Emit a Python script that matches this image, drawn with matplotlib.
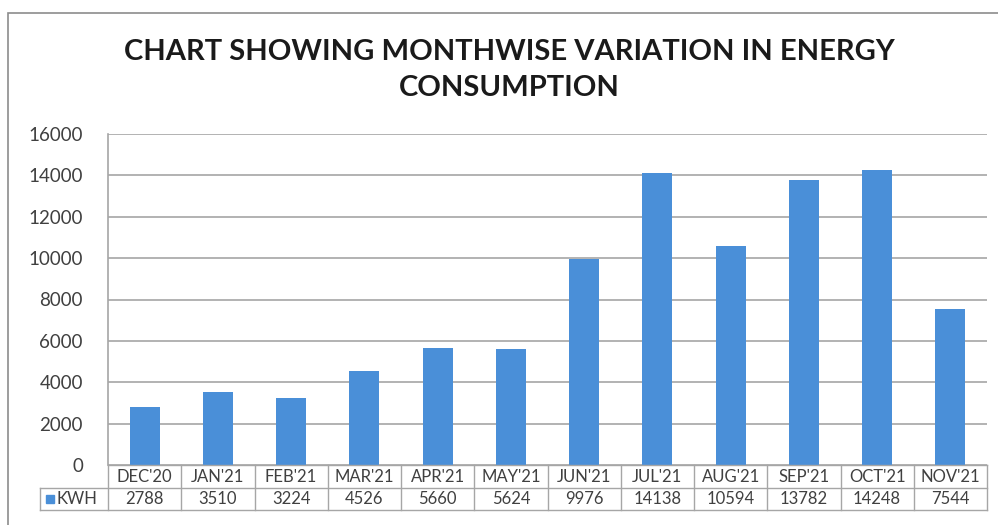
import matplotlib
matplotlib.use("Agg")
from matplotlib import pyplot as plt
from matplotlib.patches import Rectangle
from matplotlib.lines import Line2D
import numpy as np

months = ["DEC'20", "JAN'21", "FEB'21", "MAR'21", "APR'21", "MAY'21",
          "JUN'21", "JUL'21", "AUG'21", "SEP'21", "OCT'21", "NOV'21"]
kwh = [2788, 3510, 3224, 4526, 5660, 5624, 9976, 14138, 10594, 13782, 14248, 7544]
yticks = [0, 2000, 4000, 6000, 8000, 10000, 12000, 14000, 16000]
series_name = "KWH"
title = "CHART SHOWING MONTHWISE VARIATION IN ENERGY\nCONSUMPTION"

plt.rcParams['font.family'] = ['Lato', 'DejaVu Sans']
W, H = 998, 525
fig = plt.figure(figsize=(W / 100, H / 100), dpi=100)

bar_color = '#4a8fd8'
grid_color = '#a6a6a6'
text_color = '#404040'

# outer chart frame
fig.patches.append(Rectangle((8 / W, -0.1), 1.2, 1 - 13 / H + 0.1, transform=fig.transFigure,
                             fill=False, edgecolor='#8c8c8c', linewidth=1.2))

left, right, top, bottom = 108, 987, 134, 465
ax = fig.add_axes([left / W, 1 - bottom / H, (right - left) / W, (bottom - top) / H])

x = np.arange(len(months))
ax.bar(x, kwh, width=0.41, color=bar_color, zorder=3)
ax.set_xlim(-0.5, len(months) - 0.5)
ax.set_ylim(0, 16000)
ax.set_yticks(yticks)
ax.set_yticklabels([str(v) for v in yticks], fontsize=13.5, color=text_color)
ax.tick_params(axis='y', length=0, pad=18)
ax.set_xticks([])
ax.grid(axis='y', color=grid_color, linewidth=1.2, zorder=0)
for s in ['top', 'right', 'bottom']:
    ax.spines[s].set_visible(False)
ax.spines['left'].set_color(grid_color)
ax.spines['left'].set_linewidth(1.2)

fig.text(509 / W, 1 - 70 / H, title, ha='center', va='center', fontsize=21,
         fontweight='bold', color='#1a1a1a', linespacing=1.5)

# data table below the axis
row1 = 488
row2 = 510
lab_left = 40
def fy(p):
    return 1 - p / H
def fx(p):
    return p / W
lc = '#a6a6a6'
lines = [
    ((left, right), (bottom, bottom)),
    ((lab_left, right), (row1, row1)),
    ((lab_left, right), (row2, row2)),
    ((lab_left, lab_left), (row1, row2)),
    ((right, right), (bottom, row2)),
    ((left, left), (bottom, row2)),
]
for xs, ys in lines:
    fig.add_artist(Line2D([fx(xs[0]), fx(xs[1])], [fy(ys[0]), fy(ys[1])],
                          transform=fig.transFigure, color=lc, linewidth=1.0))
cw = (right - left) / len(months)
for i, (m, v) in enumerate(zip(months, kwh)):
    if i > 0:
        xl = left + i * cw
        fig.add_artist(Line2D([fx(xl), fx(xl)], [fy(bottom), fy(row2)],
                              transform=fig.transFigure, color=lc, linewidth=1.0))
    xc = left + (i + 0.5) * cw
    fig.text(fx(xc), fy((bottom + row1) / 2 + 1), m, ha='center', va='center',
             fontsize=12, color=text_color)
    fig.text(fx(xc), fy((row1 + row2) / 2), str(v), ha='center', va='center',
             fontsize=12, color=text_color)

fig.patches.append(Rectangle((fx(46), fy(503)), 8 / W, 8 / H, transform=fig.transFigure,
                             color=bar_color))
fig.text(fx(57), fy((row1 + row2) / 2), series_name, ha='left', va='center',
         fontsize=12, color=text_color)

fig.savefig('out.png', dpi=100, facecolor='white')
